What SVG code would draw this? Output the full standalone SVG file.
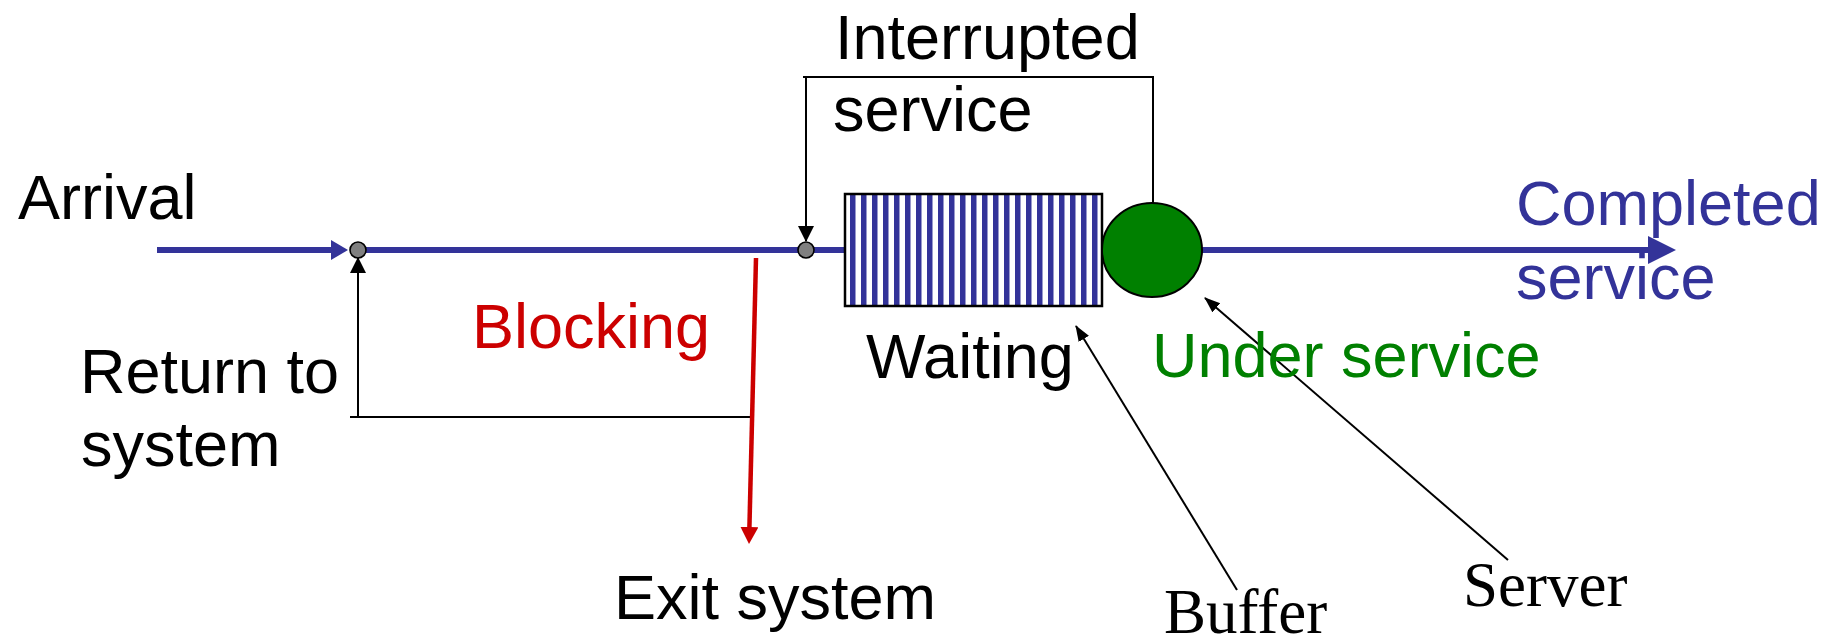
<svg xmlns="http://www.w3.org/2000/svg" width="1842" height="637" viewBox="0 0 1842 637">
  <style>
    .sans { font-family: "Liberation Sans", Arial, sans-serif; font-size: 63px; }
    .serif { font-family: "Liberation Serif", "Times New Roman", serif; font-size: 63px; fill: #000; }
    .black { fill: #000; }
    .blue { fill: #333399; }
    .green { fill: #008000; }
    .red { fill: #CC0000; }
    .flow { stroke: #333399; stroke-width: 6; fill: none; }
    .thin { stroke: #000; stroke-width: 2; fill: none; }
    .junction { fill: #808080; stroke: #000; stroke-width: 1.6; }
  </style>
  <defs>
    <marker id="headBlueBig" markerUnits="userSpaceOnUse" markerWidth="30" markerHeight="30" refX="1" refY="14" orient="auto">
      <path d="M0,0 L28,14 L0,28 z" fill="#333399"/>
    </marker>
    <marker id="headBlueSmall" markerUnits="userSpaceOnUse" markerWidth="20" markerHeight="22" refX="1" refY="10" orient="auto">
      <path d="M0,0 L17,10 L0,20 z" fill="#333399"/>
    </marker>
    <marker id="headBlack" markerUnits="userSpaceOnUse" markerWidth="18" markerHeight="18" refX="15" refY="8" orient="auto">
      <path d="M0,0 L16,8 L0,16 z" fill="#000"/>
    </marker>
    <marker id="headBlackSmall" markerUnits="userSpaceOnUse" markerWidth="18" markerHeight="14" refX="15" refY="6" orient="auto">
      <path d="M0,0 L16,6 L0,12 z" fill="#000"/>
    </marker>
    <marker id="headRed" markerUnits="userSpaceOnUse" markerWidth="20" markerHeight="20" refX="1" refY="9" orient="auto">
      <path d="M0,0 L17,9 L0,18 z" fill="#CC0000"/>
    </marker>
    <pattern id="stripes" patternUnits="userSpaceOnUse" x="845" y="0" width="11" height="20">
      <rect x="0" y="0" width="11" height="20" fill="#fff"/>
      <rect x="5" y="0" width="5.5" height="20" fill="#333399"/>
    </pattern>
  </defs>

  <!-- flow lines and feedback paths -->
  <g id="connectors">
    <line class="flow" x1="157" y1="250" x2="332" y2="250" marker-end="url(#headBlueSmall)"/>
    <line class="flow" x1="358" y1="250" x2="1649" y2="250" marker-end="url(#headBlueBig)"/>
    <polyline class="thin" points="1153,203 1153,77 803,77"/>
    <line class="thin" x1="806" y1="76" x2="806" y2="241" marker-end="url(#headBlack)"/>
    <line class="thin" x1="350" y1="417" x2="751" y2="417"/>
    <line class="thin" x1="358" y1="418" x2="358" y2="258" marker-end="url(#headBlack)"/>
    <line x1="756" y1="258" x2="749.4" y2="528" stroke="#CC0000" stroke-width="4.5" marker-end="url(#headRed)"/>
    <line class="thin" x1="1237" y1="590" x2="1076" y2="326" marker-end="url(#headBlackSmall)"/>
    <line class="thin" x1="1508" y1="560" x2="1205" y2="298" marker-end="url(#headBlackSmall)"/>
  </g>

  <g id="arrival-junction">
    <circle class="junction" cx="358" cy="250" r="8"/>
  </g>
  <g id="reentry-junction">
    <circle class="junction" cx="806" cy="250" r="8"/>
  </g>

  <g id="buffer">
    <rect x="845" y="194" width="257" height="112" fill="url(#stripes)" stroke="#000" stroke-width="2.5"/>
  </g>

  <g id="server">
    <ellipse cx="1152" cy="250" rx="50" ry="47" fill="#008000" stroke="#000" stroke-width="2"/>
  </g>

  <g id="labels">
    <text class="sans black" x="18" y="219">Arrival</text>
    <text class="sans black" x="835" y="59">Interrupted</text>
    <text class="sans black" x="833" y="131">service</text>
    <text class="sans black" x="80" y="393">Return to</text>
    <text class="sans black" x="81" y="466">system</text>
    <text class="sans red" x="472" y="348">Blocking</text>
    <text class="sans black" x="866" y="378">Waiting</text>
    <text class="sans green" x="1152" y="377">Under service</text>
    <text class="sans blue" x="1516" y="225">Completed</text>
    <text class="sans blue" x="1516" y="299">service</text>
    <text class="sans black" x="614" y="619">Exit system</text>
    <text class="serif" x="1164" y="633">Buffer</text>
    <text class="serif" x="1463" y="606">Server</text>
  </g>
</svg>
